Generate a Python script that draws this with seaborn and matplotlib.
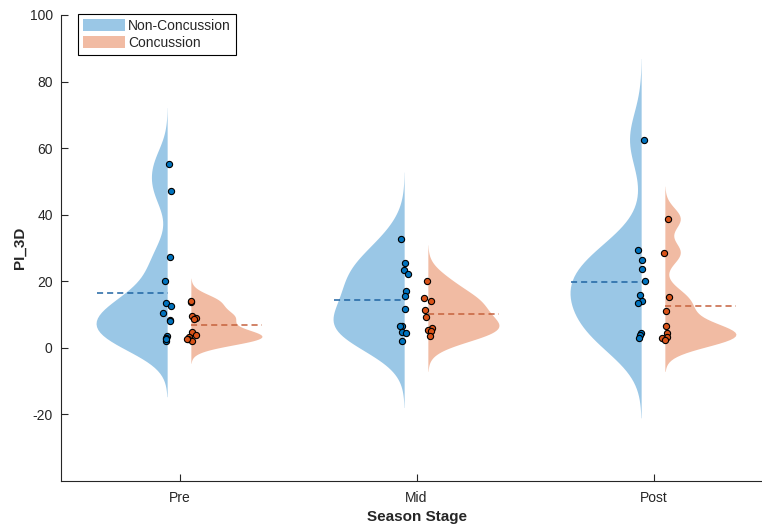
import numpy as np
import pandas as pd
import matplotlib
matplotlib.use("Agg")
import matplotlib.pyplot as plt
from matplotlib.patches import Patch
import seaborn as sns

# ---- data -------------------------------------------------------------
stages = ["Pre", "Mid", "Post"]
groups = ["Non-Concussion", "Concussion"]

pre_non = [55.1, 47.1, 27.2, 20.0, 13.5, 12.5, 10.5, 8.5, 8.1, 3.7, 3.0, 2.1, 2.6]
pre_con = [13.7, 14.0, 9.5, 9.0, 8.8, 4.9, 3.8, 3.4, 2.6, 2.0, 2.6]
mid_non = [32.6, 25.6, 23.4, 22.2, 17.0, 15.5, 11.7, 6.7, 6.5, 4.7, 4.5, 2.0]
mid_con = [20.1, 15.1, 14.2, 11.5, 9.4, 6.0, 5.5, 5.0, 3.5]
post_non = [62.5, 29.5, 26.3, 23.6, 20.2, 15.9, 14.2, 13.6, 4.6, 3.9, 3.1]
post_con = [38.7, 28.5, 15.3, 11.2, 6.5, 4.4, 3.2, 2.9, 2.5]

values = {
    ("Pre", "Non-Concussion"): pre_non,
    ("Pre", "Concussion"): pre_con,
    ("Mid", "Non-Concussion"): mid_non,
    ("Mid", "Concussion"): mid_con,
    ("Post", "Non-Concussion"): post_non,
    ("Post", "Concussion"): post_con,
}

rows = [(s, g, v) for (s, g), vals in values.items() for v in vals]
df = pd.DataFrame(rows, columns=["stage", "group", "PI_3D"])

# ---- styling ----------------------------------------------------------
sns.set_style("ticks")
plt.rcParams["font.family"] = ["Liberation Sans", "DejaVu Sans"]
plt.rcParams["axes.unicode_minus"] = False
AX_COLOR = "#262626"

base = {"Non-Concussion": (0 / 255, 114 / 255, 189 / 255),
        "Concussion": (217 / 255, 83 / 255, 25 / 255)}
fill = {"Non-Concussion": "#9AC7E6", "Concussion": "#F1BBA3"}
dash = {"Non-Concussion": "#1F64A3", "Concussion": "#C5613D"}

WIDTH, GAP = 0.8, 0.25
EDGE = WIDTH * GAP / 4            # distance from category centre to flat side
SPAN = WIDTH * (1 - GAP) / 2      # maximum half-violin extent


def robust_bw(kde):
    """Normal-reference bandwidth using a MAD-based spread estimate."""
    x = np.asarray(kde.dataset).ravel()
    n = x.size
    sig = np.median(np.abs(x - np.median(x))) / 0.6745
    bw = sig * (4.0 / (3.0 * n)) ** 0.2
    return bw / np.std(x, ddof=1)


fig = plt.figure(figsize=(7.62, 5.27), dpi=100)
ax = fig.add_axes([61 / 762, 46 / 527, 711 / 762, 466 / 527])

sns.violinplot(
    data=df, x="stage", y="PI_3D", hue="group",
    order=stages, hue_order=groups,
    split=True, width=WIDTH, gap=GAP,
    density_norm="width", inner=None, cut=3,
    bw_method=robust_bw, bw_adjust=0.8, palette=fill, saturation=1,
    linewidth=0, legend=False, ax=ax,
)
for coll in ax.collections:
    coll.set_edgecolor("none")

# mean lines and jittered observations
rng = np.random.default_rng(7)
for i, s in enumerate(stages):
    for g in groups:
        vals = np.asarray(values[(s, g)])
        side = -1 if g == groups[0] else 1
        flat = i + side * EDGE
        outer = i + side * (EDGE + SPAN)
        ax.plot([min(flat, outer), max(flat, outer)], [vals.mean()] * 2,
                ls=(0, (4.0, 2.6)), lw=1.1, color=dash[g], zorder=3)
        xs = flat + rng.uniform(-0.018, 0.018, vals.size)
        sns.scatterplot(x=xs, y=vals, color=base[g], edgecolor="black",
                        linewidth=0.8, s=20, zorder=4, ax=ax, legend=False)

# ---- axes -------------------------------------------------------------
ax.set_xlim(-0.5, 2.5)
ax.set_ylim(-40, 100)
ax.set_yticks(np.arange(-20, 101, 20))
ax.set_xticks(range(len(stages)))
ax.set_xticklabels(stages)
ax.tick_params(direction="in", length=5, width=0.8, colors=AX_COLOR,
               labelsize=10)
ax.tick_params(axis="x", pad=7)
ax.tick_params(axis="y", pad=6)
for side in ["top", "right"]:
    ax.spines[side].set_visible(False)
for side in ["left", "bottom"]:
    ax.spines[side].set_color(AX_COLOR)
    ax.spines[side].set_linewidth(0.8)

ax.set_xlabel("Season Stage", fontsize=11, fontweight="bold", color=AX_COLOR,
              labelpad=4)
ax.set_ylabel("PI_3D", fontsize=11, fontweight="bold", color=AX_COLOR,
              labelpad=2)

handles = [Patch(facecolor=fill[g], edgecolor="none", label=g) for g in groups]
leg = ax.legend(handles=handles, loc="upper left",
                bbox_to_anchor=(78 / 762, 1 - 14 / 527),
                bbox_transform=fig.transFigure, borderaxespad=0,
                fontsize=10, handlelength=3.0, handleheight=1.0,
                handletextpad=0.25, borderpad=0.35, labelspacing=0.2,
                fancybox=False, framealpha=1)
leg.get_frame().set_edgecolor("black")
leg.get_frame().set_linewidth(0.8)

fig.savefig("out.png", dpi=100)
